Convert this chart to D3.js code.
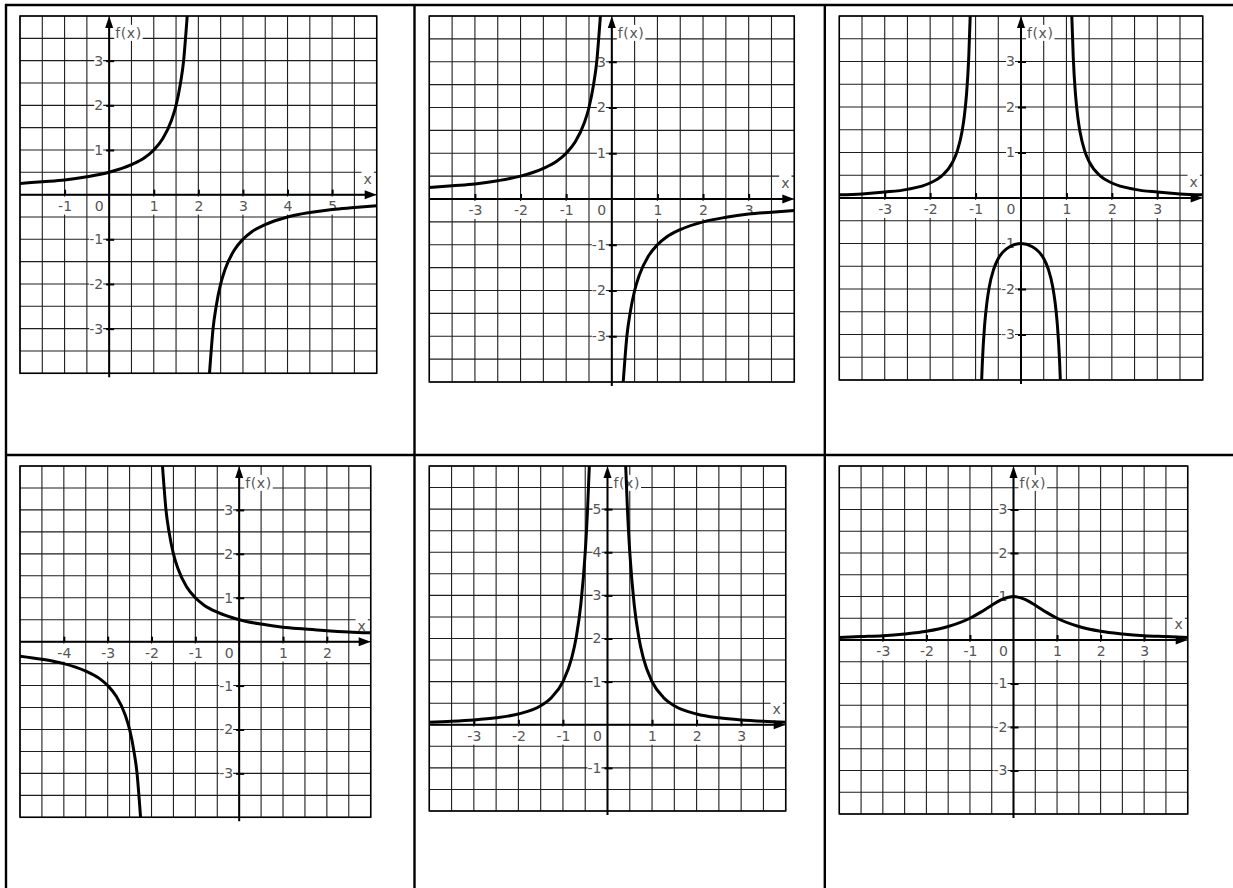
<!DOCTYPE html>
<html>
<head>
<meta charset="utf-8">
<script src="https://cdn.jsdelivr.net/npm/d3@7"></script>
<style>
  html, body { margin: 0; padding: 0; background: #fff; }
  svg { display: block; }
  .tick text, .lbl { font-family: "DejaVu Sans", sans-serif; font-size: 14px; fill: #555; }
  .fx { font-family: "DejaVu Sans", sans-serif; font-size: 14px; fill: #555; letter-spacing: 0.6px; }
</style>
</head>
<body>
<svg id="chart" width="1233" height="888"></svg>
<script>
// Six graphs of rational functions, laid out in a 2 x 3 table.

// Panel 1
const p1XDomain = [-2, 6];
const p1YDomain = [-4, 4];
const p1XTicks = [-1, 1, 2, 3, 4, 5];
const p1YTicks = [-3, -2, -1, 1, 2, 3];
const p1Left = [[-2,0.25],[-1.5,0.29],[-1,0.33],[-0.5,0.4],[0,0.5],[0.5,0.67],[0.8,0.83],[1,1],[1.2,1.25],[1.4,1.67],[1.5,2],[1.6,2.5],[1.67,3],[1.72,3.6],[1.75,4],[1.78,4.5]];
const p1Right = [[2.22,-4.5],[2.25,-4],[2.28,-3.6],[2.33,-3],[2.4,-2.5],[2.5,-2],[2.6,-1.67],[2.8,-1.25],[3,-1],[3.2,-0.83],[3.5,-0.67],[4,-0.5],[4.5,-0.4],[5,-0.33],[5.5,-0.29],[6,-0.25]];

// Panel 2
const p2XDomain = [-4, 4];
const p2YDomain = [-4, 4];
const p2XTicks = [-3, -2, -1, 1, 2, 3];
const p2YTicks = [-3, -2, -1, 1, 2, 3];
const p2Left = [[-4,0.25],[-3.5,0.29],[-3,0.33],[-2.5,0.4],[-2,0.5],[-1.5,0.67],[-1.2,0.83],[-1,1],[-0.8,1.25],[-0.6,1.67],[-0.5,2],[-0.4,2.5],[-0.33,3],[-0.28,3.6],[-0.25,4],[-0.22,4.5]];
const p2Right = [[0.22,-4.5],[0.25,-4],[0.28,-3.6],[0.33,-3],[0.4,-2.5],[0.5,-2],[0.6,-1.67],[0.8,-1.25],[1,-1],[1.2,-0.83],[1.5,-0.67],[2,-0.5],[2.5,-0.4],[3,-0.33],[3.5,-0.29],[4,-0.25]];

// Panel 3
const p3XDomain = [-4, 4];
const p3YDomain = [-4, 4];
const p3XTicks = [-3, -2, -1, 1, 2, 3];
const p3YTicks = [-3, -2, -1, 1, 2, 3];
const p3Left = [[-4,0.07],[-3.5,0.09],[-3,0.13],[-2.5,0.19],[-2,0.33],[-1.75,0.48],[-1.5,0.8],[-1.4,1.04],[-1.3,1.45],[-1.25,1.78],[-1.2,2.27],[-1.15,3.1],[-1.12,3.95],[-1.1,4.76]];
const p3Middle = [[-0.9,-5.26],[-0.88,-4.43],[-0.85,-3.6],[-0.8,-2.78],[-0.75,-2.29],[-0.7,-1.96],[-0.6,-1.56],[-0.5,-1.33],[-0.4,-1.19],[-0.25,-1.07],[0,-1],[0.25,-1.07],[0.4,-1.19],[0.5,-1.33],[0.6,-1.56],[0.7,-1.96],[0.75,-2.29],[0.8,-2.78],[0.85,-3.6],[0.88,-4.43],[0.9,-5.26]];
const p3Right = [[1.1,4.76],[1.12,3.95],[1.15,3.1],[1.2,2.27],[1.25,1.78],[1.3,1.45],[1.4,1.04],[1.5,0.8],[1.75,0.48],[2,0.33],[2.5,0.19],[3,0.13],[3.5,0.09],[4,0.07]];

// Panel 4
const p4XDomain = [-5, 3];
const p4YDomain = [-4, 4];
const p4XTicks = [-4, -3, -2, -1, 1, 2];
const p4YTicks = [-3, -2, -1, 1, 2, 3];
const p4Left = [[-5,-0.33],[-4.5,-0.4],[-4,-0.5],[-3.5,-0.67],[-3.2,-0.83],[-3,-1],[-2.8,-1.25],[-2.6,-1.67],[-2.5,-2],[-2.4,-2.5],[-2.33,-3],[-2.28,-3.6],[-2.25,-4],[-2.22,-4.5]];
const p4Right = [[-1.78,4.5],[-1.75,4],[-1.72,3.6],[-1.67,3],[-1.6,2.5],[-1.5,2],[-1.4,1.67],[-1.2,1.25],[-1,1],[-0.8,0.83],[-0.5,0.67],[0,0.5],[0.5,0.4],[1,0.33],[1.5,0.29],[2,0.25],[2.5,0.22],[3,0.2]];

// Panel 5
const p5XDomain = [-4, 4];
const p5YDomain = [-2, 6];
const p5XTicks = [-3, -2, -1, 1, 2, 3];
const p5YTicks = [-1, 1, 2, 3, 4, 5];
const p5Left = [[-4,0.06],[-3.5,0.08],[-3,0.11],[-2.5,0.16],[-2,0.25],[-1.5,0.44],[-1.25,0.64],[-1,1],[-0.8,1.56],[-0.7,2.04],[-0.6,2.78],[-0.5,4],[-0.45,4.94],[-0.41,5.95],[-0.38,6.9]];
const p5Right = [[0.38,6.9],[0.41,5.95],[0.45,4.94],[0.5,4],[0.6,2.78],[0.7,2.04],[0.8,1.56],[1,1],[1.25,0.64],[1.5,0.44],[2,0.25],[2.5,0.16],[3,0.11],[3.5,0.08],[4,0.06]];

// Panel 6
const p6XDomain = [-4, 4];
const p6YDomain = [-4, 4];
const p6XTicks = [-3, -2, -1, 1, 2, 3];
const p6YTicks = [-3, -2, -1, 1, 2, 3];
const p6Curve = [[-4,0.06],[-3.5,0.08],[-3,0.1],[-2.5,0.14],[-2,0.2],[-1.5,0.31],[-1,0.5],[-0.75,0.64],[-0.5,0.8],[-0.25,0.94],[0,1],[0.25,0.94],[0.5,0.8],[0.75,0.64],[1,0.5],[1.5,0.31],[2,0.2],[2.5,0.14],[3,0.1],[3.5,0.08],[4,0.06]];

const svg = d3.select("#chart");
svg.append("rect").attr("width", 1233).attr("height", 888).attr("fill", "#fff");

// table rules
const rules = svg.append("g").attr("stroke", "#000").attr("stroke-width", 2.4);
rules.append("line").attr("x1", 5).attr("x2", 1233).attr("y1", 5).attr("y2", 5);
rules.append("line").attr("x1", 5).attr("x2", 1233).attr("y1", 455).attr("y2", 455);
[6, 414.5, 824.8].forEach(xv => {
  rules.append("line").attr("x1", xv).attr("x2", xv).attr("y1", 4).attr("y2", 888);
});

let clipId = 0;

function addBg(parent, textSel, padX, padY) {
  const bb = textSel.node().getBBox();
  parent.insert("rect", () => textSel.node())
    .attr("x", bb.x - padX).attr("y", bb.y - padY)
    .attr("width", bb.width + 2 * padX).attr("height", bb.height + 2 * padY)
    .attr("fill", "#fff");
}

function drawPanel(box, xDom, yDom, xTicks, yTicks, branches) {
  const [L, T, R, B] = box;
  const x = d3.scaleLinear().domain(xDom).range([L, R]);
  const y = d3.scaleLinear().domain(yDom).range([B, T]);
  const g = svg.append("g");

  // half-unit grid
  const gxVals = d3.range(xDom[0], xDom[1] + 1e-9, 0.5);
  const gyVals = d3.range(yDom[0], yDom[1] + 1e-9, 0.5);
  const grid = g.append("g").attr("stroke", "#1e1e1e").attr("stroke-width", 1.1);
  grid.selectAll(".gv").data(gxVals).join("line")
    .attr("x1", d => x(d)).attr("x2", d => x(d)).attr("y1", T).attr("y2", B);
  grid.selectAll(".gh").data(gyVals).join("line")
    .attr("x1", L).attr("x2", R).attr("y1", d => y(d)).attr("y2", d => y(d));
  g.append("rect").attr("x", L).attr("y", T).attr("width", R - L).attr("height", B - T)
    .attr("fill", "none").attr("stroke", "#000").attr("stroke-width", 1.5);

  const x0 = x(0), y0 = y(0);

  // x axis ticks and labels
  const ax = g.append("g").attr("transform", `translate(0,${y0})`)
    .call(d3.axisBottom(x).tickValues(xTicks).tickSizeInner(-5).tickSizeOuter(0)
      .tickPadding(6).tickFormat(d => String(d)));
  ax.select(".domain").remove();
  ax.selectAll(".tick line").attr("stroke", "#000").attr("stroke-width", 2);
  ax.selectAll(".tick").each(function () {
    const tk = d3.select(this);
    addBg(tk, tk.select("text"), 3, 1);
  });
  const zero = ax.append("text").attr("class", "lbl").attr("x", x0 - 10).attr("y", 6)
    .attr("dy", "0.71em").attr("text-anchor", "middle").text("0");
  addBg(ax, zero, 3, 1);

  // y axis ticks and labels
  const ay = g.append("g").attr("transform", `translate(${x0},0)`)
    .call(d3.axisLeft(y).tickValues(yTicks).tickSizeInner(-5).tickSizeOuter(0)
      .tickPadding(6).tickFormat(d => String(d)));
  ay.select(".domain").remove();
  ay.selectAll(".tick line").attr("x1", -3).attr("stroke", "#000").attr("stroke-width", 2);
  ay.selectAll(".tick").each(function () {
    const tk = d3.select(this);
    addBg(tk, tk.select("text"), 0, -1);
  });

  // axis names
  const fx = g.append("text").attr("class", "fx").attr("x", x0 + 6).attr("y", T + 17)
    .attr("dy", "0.35em").text("f(x)");
  addBg(g, fx, 1, 0);
  const xn = g.append("text").attr("class", "lbl").attr("x", R - 9).attr("y", y0 - 16)
    .attr("dy", "0.35em").attr("text-anchor", "middle").text("x");
  addBg(g, xn, 2, 0);

  // axes with arrowheads
  g.append("line").attr("x1", L).attr("x2", R - 10).attr("y1", y0).attr("y2", y0)
    .attr("stroke", "#000").attr("stroke-width", 2);
  g.append("path").attr("d", `M${R},${y0}L${R - 12},${y0 - 4.5}L${R - 12},${y0 + 4.5}Z`).attr("fill", "#000");
  g.append("line").attr("x1", x0).attr("x2", x0).attr("y1", B + 4).attr("y2", T + 10)
    .attr("stroke", "#000").attr("stroke-width", 2);
  g.append("path").attr("d", `M${x0},${T}L${x0 - 4},${T + 12}L${x0 + 4},${T + 12}Z`).attr("fill", "#000");

  // function branches, clipped to the grid
  const cid = "clip" + (clipId++);
  g.append("clipPath").attr("id", cid).append("rect")
    .attr("x", L).attr("y", T).attr("width", R - L).attr("height", B - T);
  const line = d3.line().x(d => x(d[0])).y(d => y(d[1])).curve(d3.curveMonotoneX);
  g.append("g").attr("clip-path", `url(#${cid})`)
    .selectAll("path").data(branches).join("path")
    .attr("d", line).attr("fill", "none").attr("stroke", "#000")
    .attr("stroke-width", 3).attr("stroke-linejoin", "round");
}

drawPanel([20, 16, 376.7, 373.3], p1XDomain, p1YDomain, p1XTicks, p1YTicks, [p1Left, p1Right]);
drawPanel([429.3, 16, 794.3, 382], p2XDomain, p2YDomain, p2XTicks, p2YTicks, [p2Left, p2Right]);
drawPanel([839.3, 16, 1202.7, 380], p3XDomain, p3YDomain, p3XTicks, p3YTicks, [p3Left, p3Middle, p3Right]);
drawPanel([20, 466, 370.7, 817.3], p4XDomain, p4YDomain, p4XTicks, p4YTicks, [p4Left, p4Right]);
drawPanel([429.3, 466, 785.7, 811], p5XDomain, p5YDomain, p5XTicks, p5YTicks, [p5Left, p5Right]);
drawPanel([839.3, 466, 1187.7, 814], p6XDomain, p6YDomain, p6XTicks, p6YTicks, [p6Curve]);
</script>
</body>
</html>
